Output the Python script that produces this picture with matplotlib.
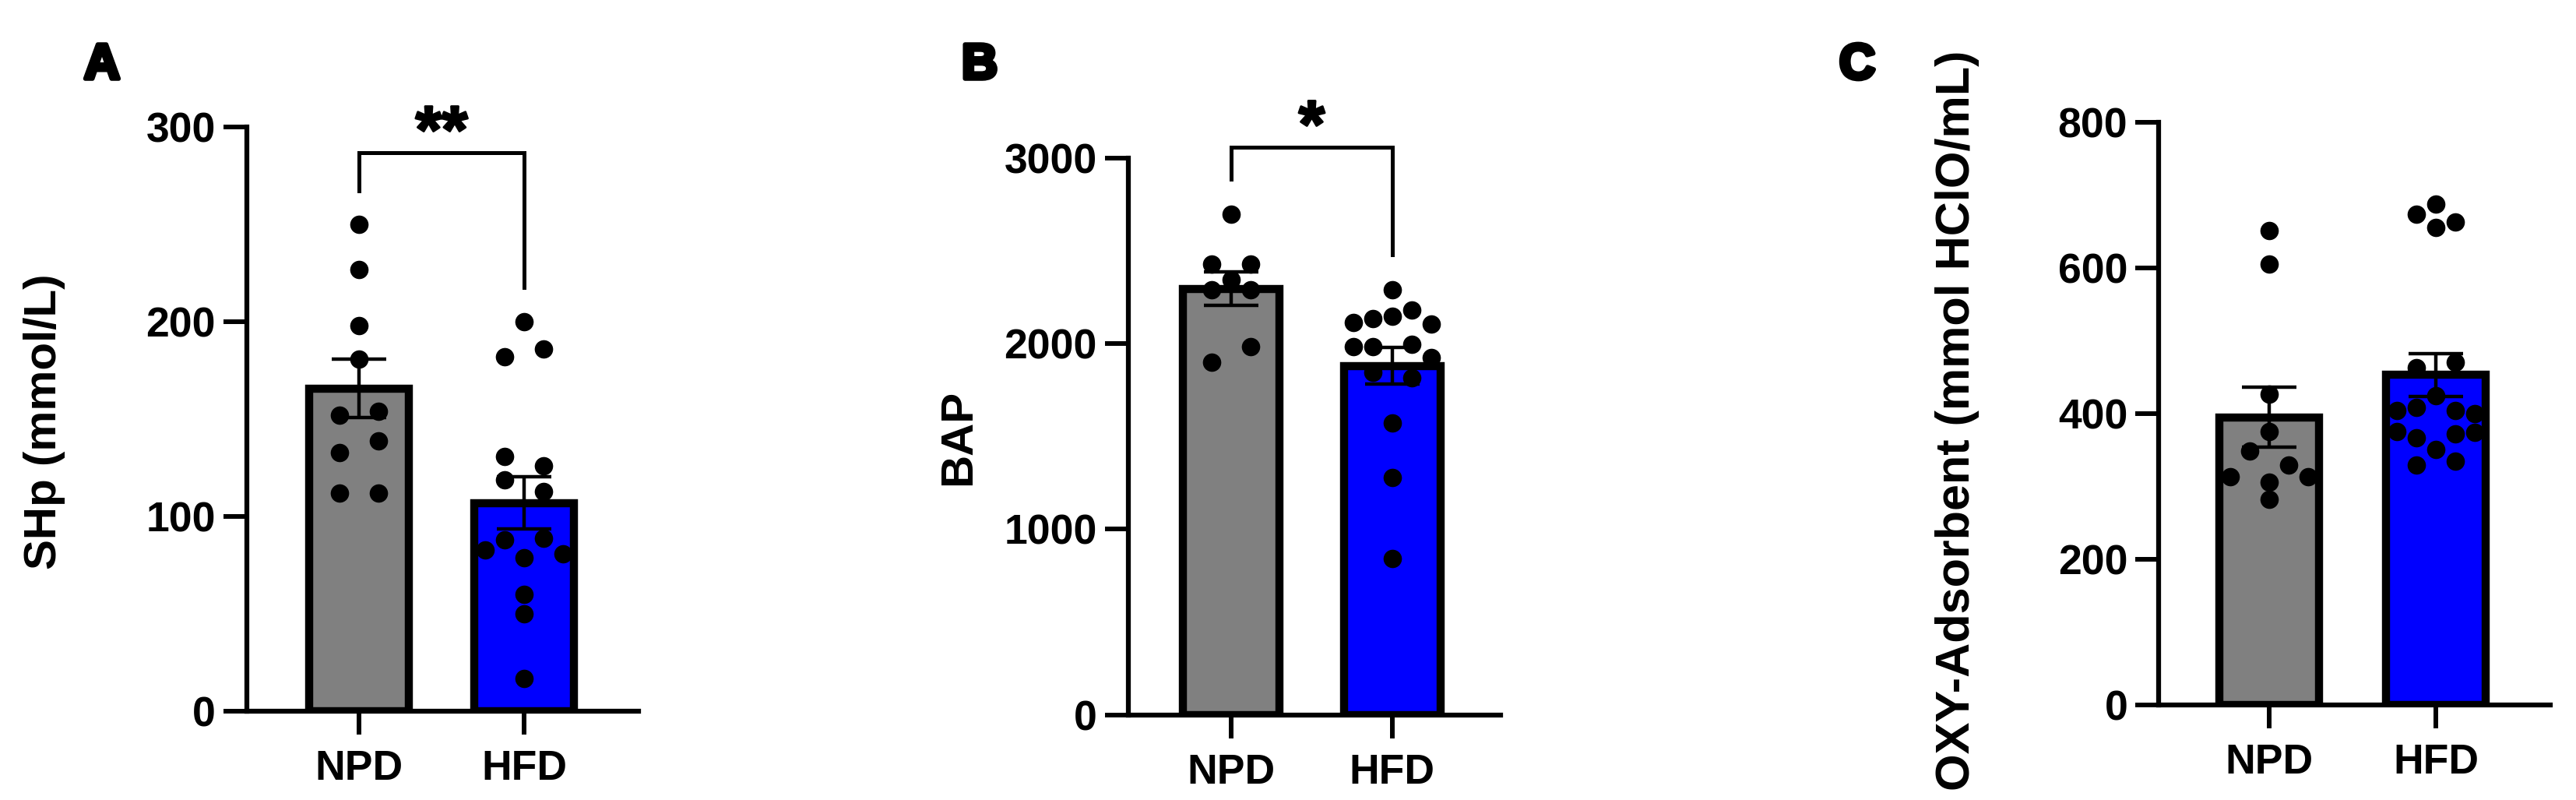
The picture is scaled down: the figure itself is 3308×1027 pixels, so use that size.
import numpy as np
import matplotlib.pyplot as plt
import matplotlib.patheffects as pe

plt.rcParams['font.family'] = ['Liberation Sans', 'DejaVu Sans']
plt.rcParams['font.weight'] = 'bold'

groups = ['NPD', 'HFD']
bar_colors = ['#808080', '#0000ff']

# values (one dot per animal)
shp_npd = [250, 227, 198, 181, 152, 154, 133, 139, 112, 112]
shp_hfd = [200, 182, 186, 131, 126, 119, 113, 88, 89, 83, 81, 79, 60, 50, 17]
bap_npd = [2697, 2345, 2428, 2428, 2290, 2290, 1899, 1982]
bap_hfd = [2290, 2147, 2133, 2183, 2114, 2105, 1982, 1996, 1982, 1927,
           1844, 1817, 1574, 1280, 840]
oxy_npd = [651, 605, 427, 376, 349, 329, 306, 313, 313, 282]
oxy_hfd = [688, 674, 663, 656, 463, 471, 425, 409, 404, 404, 400,
           351, 367, 372, 376, 374, 329, 335]

shp_ticks = [0, 100, 200, 300]
bap_ticks = [0, 1000, 2000, 3000]
oxy_ticks = [0, 200, 400, 600, 800]

W, H = 3308, 1027
fig = plt.figure(figsize=(W / 100, H / 100), dpi=100)

DOT_PX = 23      # dot diameter in pixels
STEP_PX = 25     # horizontal step between dots


def px_rect(left, right, bottom, top):
    return [left / W, 1 - bottom / H, (right - left) / W, (bottom - top) / H]


def swarm_offsets(ax, values):
    # GraphPad-like scatter: dots within about one dot height form a row,
    # each row is spread symmetrically around the bar centre
    p0 = ax.transData.transform((0, 0))
    p1 = ax.transData.transform((1, 1))
    ypx = np.asarray(values, float) * (p1[1] - p0[1])
    xunit = p1[0] - p0[0]
    order = sorted(range(len(ypx)), key=lambda i: -ypx[i])
    rows = []
    i = 0
    while i < len(order):
        start = ypx[order[i]]
        row = [order[i]]
        i += 1
        while i < len(order) and start - ypx[order[i]] < 1.08 * DOT_PX:
            row.append(order[i])
            i += 1
        rows.append(sorted(row))
    offs = np.zeros(len(ypx))
    placed = []
    for row in rows:
        n = len(row)
        options = []
        for shift in range(4):
            slots = [0] if n % 2 else []
            k = 1
            while len(slots) < n:
                slots += [-(k + shift), k + shift]
                k += 1
            options.append(slots[:n])
        chosen = options[0]
        for slots in options:
            ok = all(np.hypot(s * STEP_PX - px, ypx[j] - py) >= 0.9 * DOT_PX
                     for s, j in zip(slots, row) for px, py in placed)
            if ok:
                chosen = slots
                break
        for s, j in zip(chosen, row):
            offs[j] = s * STEP_PX / xunit
            placed.append((s * STEP_PX, ypx[j]))
    return offs


def panel(rect, xlim, data, ticks, ylabel, label_xy, label_size):
    ax = fig.add_axes(rect)
    ax.set_xlim(*xlim)
    ax.set_ylim(ticks[0], ticks[-1])
    means = [np.mean(d) for d in data]
    sems = [np.std(d, ddof=1) / np.sqrt(len(d)) for d in data]
    ax.bar(range(2), means, width=0.6, color=bar_colors, edgecolor='black',
           linewidth=7.5, zorder=2)
    for k, d in enumerate(data):
        xs = k + swarm_offsets(ax, d)
        ax.plot(xs, d, 'o', color='black', markersize=17, markeredgewidth=0,
                zorder=3, clip_on=False)
    ax.errorbar(range(2), means, yerr=sems, fmt='none', ecolor='black',
                elinewidth=3.2, capsize=25, capthick=3.2, zorder=4)
    for s in ['top', 'right']:
        ax.spines[s].set_visible(False)
    for s in ['left', 'bottom']:
        ax.spines[s].set_linewidth(4.5)
    ax.set_xticks(range(2))
    ax.set_xticklabels(groups)
    ax.set_yticks(ticks)
    ax.tick_params(axis='both', length=21.6, width=4.3, labelsize=38.5)
    ax.tick_params(axis='x', pad=14)
    ax.tick_params(axis='y', pad=7)
    fig.text(label_xy[0] / W, 1 - label_xy[1] / H, ylabel, rotation=90,
             ha='center', va='center', fontsize=label_size, fontweight='bold')
    return ax


def bracket(ax, data, top, gap, stars):
    left = max(data[0]) + gap
    right = max(data[1]) + gap
    ax.plot([0, 0, 1, 1], [left, top, top, right], color='black', lw=3.6,
            clip_on=False, solid_joinstyle='miter', zorder=5)
    ax.text(0.5, top, stars, ha='center', va='baseline', fontsize=62,
            fontweight='bold', clip_on=False,
            path_effects=[pe.withStroke(linewidth=2, foreground='black')])


ax_a = panel(px_rect(316.7, 820, 913, 163.3), (-0.681, 1.693),
             [shp_npd, shp_hfd], shp_ticks, 'SHp (mmol/L)', (57, 541), 42)
bracket(ax_a, [shp_npd, shp_hfd], 287, 17.5, '**')

ax_b = panel(px_rect(1448.5, 1927, 917.5, 203), (-0.641, 1.673),
             [bap_npd, bap_hfd], bap_ticks, 'BAP', (1231, 561), 42)
bracket(ax_b, [bap_npd, bap_hfd], 3060, 191, '*')

ax_c = panel(px_rect(2772, 3275, 905, 157.2), (-0.664, 1.687),
             [oxy_npd, oxy_hfd], oxy_ticks,
             'OXY-Adsorbent (mmol HClO/mL)', (2514, 540), 44)

# panel letters are heavier than plain bold in the original
for txt, xc in [('A', 131), ('B', 1258), ('C', 2385)]:
    fig.text(xc / W, 1 - 101 / H, txt, ha='center', va='baseline',
             fontsize=46, fontweight='bold',
             path_effects=[pe.withStroke(linewidth=4, foreground='black')])

fig.savefig('out.png', dpi=100)
